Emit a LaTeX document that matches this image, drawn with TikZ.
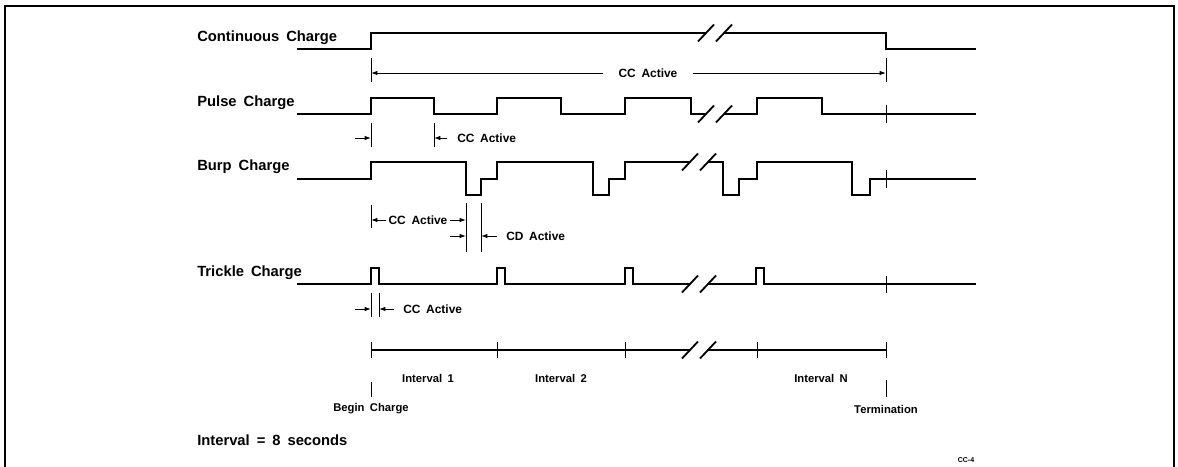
\documentclass[tikz,border=0pt]{standalone}
\usepackage{fontspec}
\setmainfont{Liberation Sans}[WordSpace=1.7]
\usetikzlibrary{arrows.meta, positioning}

\begin{document}
\begin{tikzpicture}[x=0.025cm, y=-0.025cm,
        wave/.style={line width=1.3pt},
        marker/.style={line width=0.7pt},
        dimarrow/.style={line width=0.7pt, -{Latex[length=4.5pt, width=3.2pt]}},
        title/.style={anchor=west, inner sep=0pt, font=\bfseries\fontsize{10.5}{12}\selectfont},
        note/.style={inner sep=0pt, font=\bfseries\fontsize{8.5}{10}\selectfont},
        tag/.style={inner sep=0pt, font=\bfseries\fontsize{8}{10}\selectfont},
        brk/.pic={\draw[wave] (-17,8.5) -- (-1,-8.5) (1,8.5) -- (17,-8.5);}]
        \useasboundingbox (0,0) rectangle (1178,467);
        \draw [line width=1.3pt] (5,475) -- (5,6) -- (1174,6) -- (1174,475);

        \node [title] (Lcont) at (197,38) {Continuous Charge};
        \node [title] (Lpulse) at (197,103) {Pulse Charge};
        \node [title] (Lburp) at (197,167) {Burp Charge};
        \node [title] (Ltrickle) at (197,273) {Trickle Charge};

        \draw [wave] (297,49) -- (371,49) -- (371,33) -- (706,33);
        \draw [wave] (724,33) -- (886,33) -- (886,49) -- (976,49);
        \pic at (715,33) {brk};

        \draw [marker] (371,58) -- (371,82);
        \draw [marker] (886,58) -- (886,82);
        \coordinate (ccL) at (371,73);
        \coordinate (ccR) at (886,73);
        \node [note, inner xsep=0.375cm] (ccFull) at (648,73) {CC Active};
        \draw [dimarrow] (ccFull) -- (ccL);
        \draw [dimarrow] (ccFull) -- (ccR);

        \draw [wave] (297,114) -- (371,114) -- (371,98) -- (434,98) -- (434,114) -- (497,114) -- (497,98) -- (561,98) -- (561,114) -- (625,114) -- (625,98) -- (691,98) -- (691,114) -- (706,114);
        \draw [wave] (724,114) -- (757,114) -- (757,98) -- (822,98) -- (822,114) -- (976,114);
        \pic at (715,114) {brk};
        \draw [marker] (886,105) -- (886,123);

        \draw [marker] (371,123) -- (371,147);
        \draw [marker] (434,123) -- (434,147);
        \coordinate (pA) at (355,138);
        \coordinate (pB) at (371,138);
        \coordinate (pC) at (434,138);
        \draw [dimarrow] (pA) -- (pB);
        \node [note, anchor=west, inner xsep=0.25cm] (pulseCC) at (447,138) {CC Active};
        \draw [dimarrow] (pulseCC) -- (pC);

        \draw [wave] (297,179) -- (371,179) -- (371,162) -- (466,162) -- (466,195) -- (481,195) -- (481,179) -- (497,179) -- (497,162) -- (593,162) -- (593,195) -- (609,195) -- (609,179) -- (625,179) -- (625,162) -- (690,162);
        \draw [wave] (708,162) -- (723,162) -- (723,195) -- (739,195) -- (739,179) -- (757,179) -- (757,162) -- (852,162) -- (852,195) -- (870,195) -- (870,179) -- (976,179);
        \pic at (699,162) {brk};
        \draw [marker] (886,170) -- (886,188);

        \draw [marker] (371,205) -- (371,228);
        \draw [marker] (466,203) -- (466,252);
        \draw [marker] (481,203) -- (481,252);
        \coordinate (bA) at (371,220);
        \coordinate (bB) at (466,220);
        \node [note, inner xsep=0.05cm] (burpCC) at (418,220) {CC Active};
        \draw [dimarrow] (burpCC) -- (bA);
        \draw [dimarrow] (burpCC) -- (bB);
        \coordinate (bC) at (450,236);
        \coordinate (bD) at (466,236);
        \coordinate (bE) at (481,236);
        \draw [dimarrow] (bC) -- (bD);
        \node [note, anchor=west, inner xsep=0.225cm] (burpCD) at (497,236) {CD Active};
        \draw [dimarrow] (burpCD) -- (bE);

        \draw [wave] (297,284) -- (371,284) -- (371,268) -- (379,268) -- (379,284) -- (497,284) -- (497,268) -- (505,268) -- (505,284) -- (625,284) -- (625,268) -- (633,268) -- (633,284) -- (690,284);
        \draw [wave] (708,284) -- (756,284) -- (756,268) -- (764,268) -- (764,284) -- (976,284);
        \pic at (699,284) {brk};
        \draw [marker] (886,276) -- (886,293);

        \draw [marker] (371,293) -- (371,317);
        \draw [marker] (379,293) -- (379,317);
        \coordinate (tA) at (355,309);
        \coordinate (tB) at (371,309);
        \coordinate (tC) at (379,309);
        \draw [dimarrow] (tA) -- (tB);
        \node [note, anchor=west, inner xsep=0.225cm] (trickleCC) at (394,309) {CC Active};
        \draw [dimarrow] (trickleCC) -- (tC);

        \draw [wave] (371,350) -- (690,350);
        \draw [wave] (708,350) -- (886,350);
        \pic at (699,350) {brk};
        \foreach \t in {371, 497, 625, 757, 886}
            \draw [marker] (\t,342) -- (\t,358);

        \node [tag] (int1) at (428,378) {Interval 1};
        \node [tag] (int2) at (561,378) {Interval 2};
        \node [tag] (intN) at (821,378) {Interval N};

        \draw [marker] (371,382) -- (371,397);
        \draw [marker] (886,380) -- (886,397);
        \node [tag] (begin) at (371,409) {Begin Charge};
        \node [tag] (term) at (886,409) {Termination};

        \node [title] (period) at (197,440) {Interval = 8 seconds};
        \node [inner sep=0pt, font=\bfseries\fontsize{5}{6}\selectfont] (figno) at (966,460) {CC-4};
    \end{tikzpicture}
\end{document}
